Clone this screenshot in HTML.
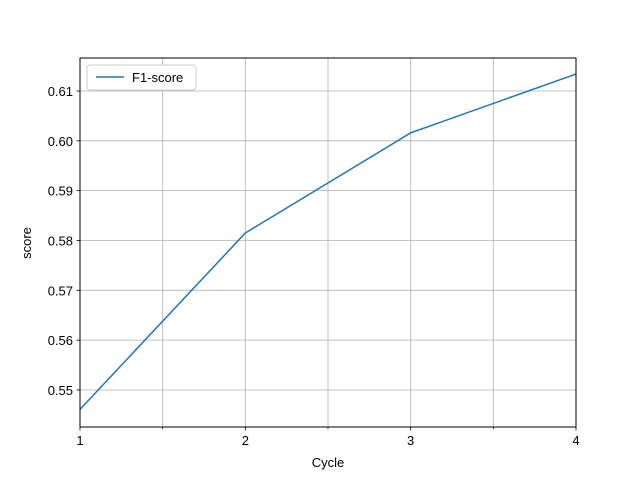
<!DOCTYPE html>
<html><head><meta charset="utf-8"><style>
body{margin:0;background:#fff}
svg text{font-family:"Liberation Sans","DejaVu Sans",sans-serif;font-size:13px;fill:#000}
</style></head><body>
<svg id="chart" width="640" height="480" xmlns="http://www.w3.org/2000/svg">
<rect width="640" height="480" fill="#fff"/>
<g id="grid"></g>
<g id="ticks"></g>
<path id="line" fill="none" stroke="#1f77b4" stroke-width="1.5"/>
<rect x="80" y="58" width="496" height="369" fill="none" stroke="#000" stroke-width="1"/>
<text x="328" y="467" text-anchor="middle">Cycle</text>
<text transform="translate(31,243) rotate(-90)" text-anchor="middle">score</text>
<g>
<rect x="87" y="65" width="109" height="25" rx="3" fill="#fff" stroke="#ccc"/>
<line x1="96" y1="77" x2="124" y2="77" stroke="#1f77b4" stroke-width="1.5"/>
<text x="132" y="82">F1-score</text>
</g>
</svg>
<script>
const cycles=[1,2,3,4];
const f1Scores=[0.5461,0.5815,0.6016,0.6134];
const yTicks=[0.55,0.56,0.57,0.58,0.59,0.60,0.61];
const xTicks=[1,1.5,2,2.5,3,3.5,4];
const X0=80,X1=576,Y0=427,Y1=58,xmin=1,xmax=4,ymin=0.54257,ymax=0.61662;
const sx=v=>X0+(v-xmin)/(xmax-xmin)*(X1-X0);
const sy=v=>Y0-(v-ymin)/(ymax-ymin)*(Y0-Y1);
const NS="http://www.w3.org/2000/svg";
const grid=document.getElementById('grid'),ticks=document.getElementById('ticks');
function mk(tag,attrs,parent){const e=document.createElementNS(NS,tag);for(const k in attrs)e.setAttribute(k,attrs[k]);parent.appendChild(e);return e;}
xTicks.forEach(t=>{
  const x=sx(t);
  const g=mk('line',{x1:x,x2:x,y1:Y1,y2:Y0,stroke:'#b0b0b0','stroke-width':0.8},grid);
  
  
  mk('line',{x1:x,x2:x,y1:Y0,y2:Y0+(Number.isInteger(t)?3.5:2),stroke:'#000','stroke-width':0.8},ticks);
  if(Number.isInteger(t)){
    const tx=mk('text',{x:x,y:Y0+18,'text-anchor':'middle'},ticks);
    tx.textContent=String(t);
    
    
  }
});
yTicks.forEach(t=>{
  const y=sy(t);
  const g=mk('line',{x1:X0,x2:X1,y1:y,y2:y,stroke:'#b0b0b0','stroke-width':0.8},grid);
  
  
  mk('line',{x1:X0-3.5,x2:X0,y1:y,y2:y,stroke:'#000','stroke-width':0.8},ticks);
  const tx=mk('text',{x:X0-7,y:y+5,'text-anchor':'end'},ticks);
  tx.textContent=t.toFixed(2);
  
  
});
document.getElementById('line').setAttribute('d',cycles.map((c,i)=>(i?'L':'M')+sx(c)+','+sy(f1Scores[i])).join(''));
</script>
</body></html>
